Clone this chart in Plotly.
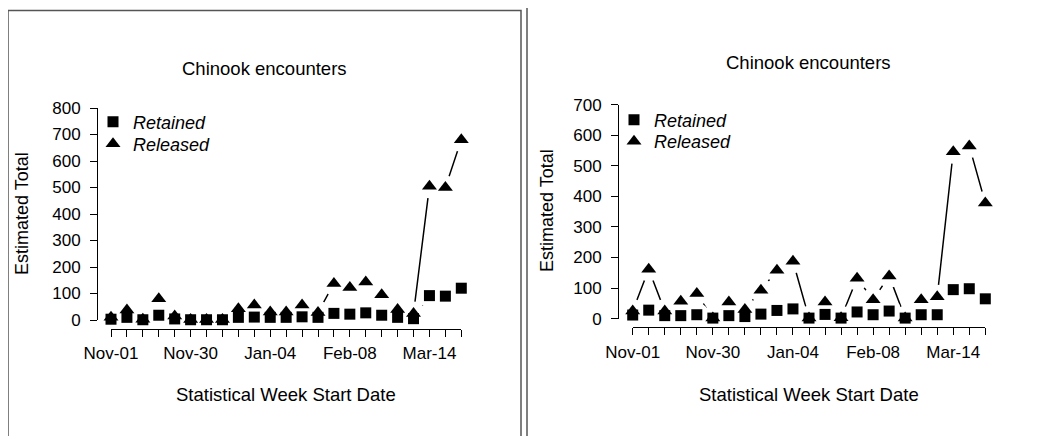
import plotly.graph_objects as go

W, H = 1045, 436
OFF = 8  # page body margin in the browser

weeks = list(range(23))
tick_labels = ["Nov-01", "", "", "", "", "Nov-30", "", "", "", "", "Jan-04", "", "", "", "",
               "Feb-08", "", "", "", "", "Mar-14", "", ""]

left_retained = [3, 10, 1, 18, 4, 1, 1, 1, 10, 11, 10, 10, 12, 10, 25, 22, 27, 18, 10, 5, 92, 90, 120]
left_released = [10, 38, 3, 80, 15, 2, 2, 2, 42, 57, 30, 30, 57, 28, 138, 123, 143, 95, 40, 25, 505, 500, 680]
right_retained = [12, 28, 10, 10, 13, 2, 10, 7, 15, 27, 32, 2, 14, 2, 22, 13, 25, 2, 13, 13, 95, 98, 65]
right_released = [25, 162, 25, 57, 82, 2, 55, 30, 93, 158, 188, 2, 55, 3, 132, 62, 140, 2, 62, 72, 546, 565, 378]

left_yticks = list(range(0, 801, 100))
right_yticks = list(range(0, 701, 100))

FONT = "Liberation Sans, Arial, sans-serif"


def px(x):
    return (x - OFF) / W


def py(y):
    return 1 - (y - OFF) / H


fig = go.Figure()


def add_panel(retained, released, xa, ya, leg_ret, leg_rel):
    for vals in (retained, released):
        fig.add_trace(go.Scatter(x=weeks, y=vals, mode="lines", xaxis=xa, yaxis=ya,
                                 line=dict(color="black", width=1.5), showlegend=False,
                                 hoverinfo="skip", cliponaxis=False))
    for vals in (retained, released):
        fig.add_trace(go.Scatter(x=weeks, y=vals, mode="markers", xaxis=xa, yaxis=ya,
                                 marker=dict(color="white", size=24, symbol="circle",
                                             line=dict(width=0)),
                                 showlegend=False, hoverinfo="skip", cliponaxis=False))
    fig.add_trace(go.Scatter(x=weeks, y=retained, mode="markers", xaxis=xa, yaxis=ya,
                             name="Retained", legend=leg_ret,
                             marker=dict(color="black", size=11, symbol="square"),
                             cliponaxis=False))
    fig.add_trace(go.Scatter(x=weeks, y=released, mode="markers", xaxis=xa, yaxis=ya,
                             name="Released", legend=leg_rel,
                             marker=dict(color="black", size=13, symbol="triangle-up"),
                             cliponaxis=False))


add_panel(left_retained, left_released, "x", "y", "legend", "legend2")
add_panel(right_retained, right_released, "x2", "y2", "legend3", "legend4")

axis_common = dict(showline=True, linecolor="black", linewidth=1, ticks="outside",
                   ticklen=7, tickcolor="black", tickwidth=1, showgrid=False,
                   zeroline=False, automargin=False,
                   tickfont=dict(family=FONT, size=17, color="black"))

leg_font = dict(family=FONT, size=18, color="black", style="italic")


def leg(xp, yp):
    return dict(x=px(xp), y=py(yp), xanchor="left", yanchor="middle",
                bgcolor="rgba(0,0,0,0)", borderwidth=0, font=leg_font)


fig.update_layout(
    width=W, height=H, margin=dict(l=0, r=0, t=0, b=0, pad=0, autoexpand=False),
    autosize=False,
    paper_bgcolor="white", plot_bgcolor="white",
    xaxis=dict(domain=[px(111), px(461.3)], range=[0, 22], anchor="free",
               position=py(328.5), tickvals=weeks, ticktext=tick_labels,
               ticklabelstandoff=2, **axis_common),
    yaxis=dict(domain=[py(320), py(108)], range=[0, 800], anchor="free",
               position=px(97), tickvals=left_yticks, ticklabelstandoff=6, **axis_common),
    xaxis2=dict(domain=[px(632.7), px(985.3)], range=[0, 22], anchor="free",
                position=py(327.3), tickvals=weeks, ticktext=tick_labels,
                ticklabelstandoff=2, **axis_common),
    yaxis2=dict(domain=[py(318.7), py(104.6)], range=[0, 700], anchor="free",
                position=px(618), tickvals=right_yticks, ticklabelstandoff=6, **axis_common),
    legend=leg(93, 122),
    legend2=leg(93, 144),
    legend3=leg(614, 120),
    legend4=leg(614, 141.5),
)

annots = [
    dict(text="Chinook encounters", x=px(264), y=py(68), size=18.5),
    dict(text="Chinook encounters", x=px(808), y=py(63), size=18.5),
    dict(text="Statistical Week Start Date", x=px(286), y=py(394), size=18.5),
    dict(text="Statistical Week Start Date", x=px(809), y=py(394), size=18.5),
    dict(text="Estimated Total", x=px(22), y=py(214), textangle=-90, size=18),
    dict(text="Estimated Total", x=px(547), y=py(211), textangle=-90, size=18),
]
for a in annots:
    size = a.pop("size")
    fig.add_annotation(xref="paper", yref="paper", showarrow=False, xanchor="center",
                       yanchor="middle", font=dict(family=FONT, size=size, color="black"), **a)

border = dict(color="#555555", width=1.5)
fig.add_shape(type="rect", xref="paper", yref="paper", x0=px(8), x1=px(521),
              y0=-0.2, y1=py(10.5), line=border, layer="below")
fig.add_shape(type="rect", xref="paper", yref="paper", x0=px(527), x1=1.2,
              y0=-0.2, y1=py(6.3), line=border, layer="below")

fig.write_html("out.html")
